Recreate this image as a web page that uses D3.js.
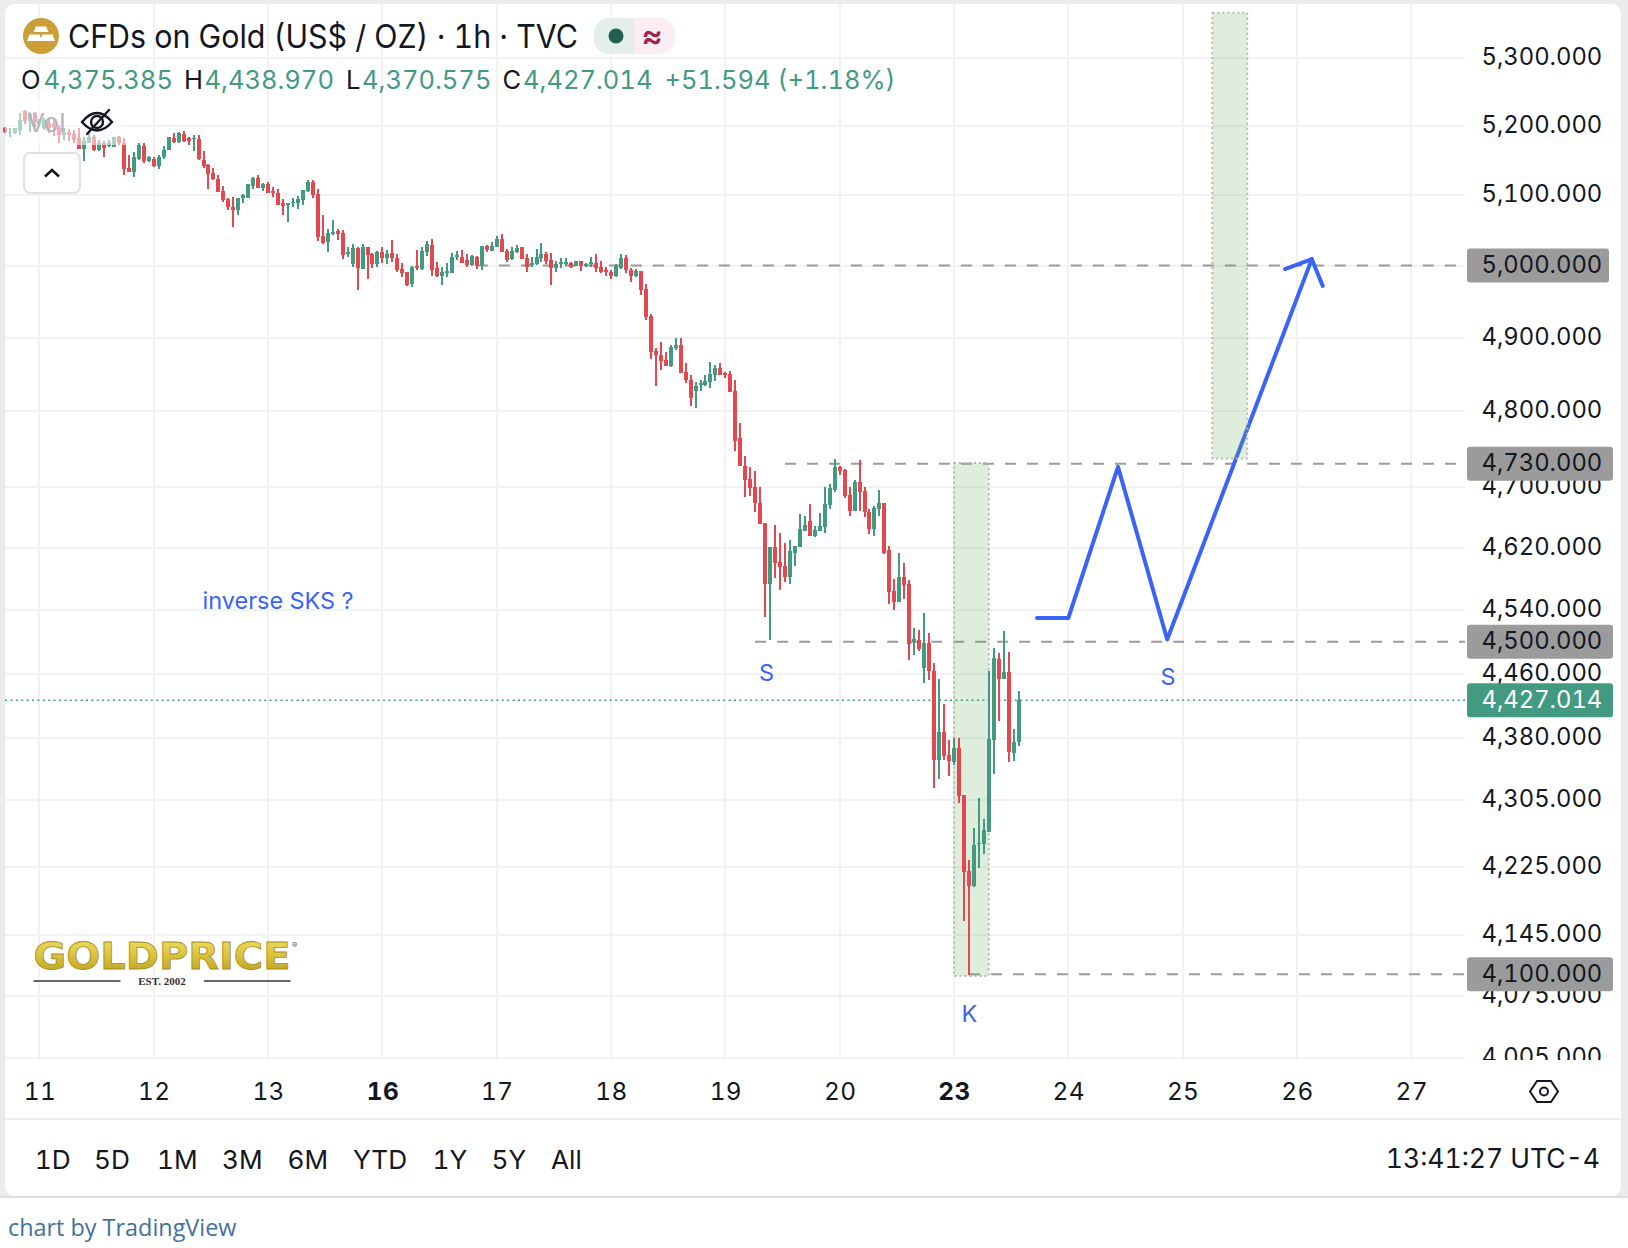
<!DOCTYPE html>
<html><head><meta charset="utf-8">
<style>
html,body{margin:0;padding:0;background:#fff}
svg{display:block}
text{font-family:Inter,"Noto Sans",sans-serif;font-variant-numeric:tabular-nums}
.yaxis text{font-size:23.8px;fill:#131722}
.xaxis text{font-size:24.4px;fill:#131722;letter-spacing:.4px}
</style>
<script src="https://cdn.jsdelivr.net/npm/d3@7/dist/d3.min.js"></script>
</head><body><svg id="c" width="1628" height="1248"></svg>
<script>
const opens=[5197,5189,5189,5193,5221,5206,5218,5202,5196,5204,5202,5196,5186,5190,5187,5182,5166,5174,5184,5164,5175,5170,5169,5183,5175,5138,5133,5152,5170,5149,5152,5141,5154,5164,5182,5176,5187,5182,5180,5180,5150,5143,5132,5123,5105,5094,5083,5078,5095,5096,5112,5124,5110,5116,5105,5103,5089,5085,5088,5089,5093,5105,5118,5101,5041,5033,5044,5048,5046,5016,5002,5025,4995,5026,5016,5002,5019,5010,5017,5011,4995,4991,4974,4999,4995,5019,5029,4997,4985,4990,4990,5012,5012,5008,5001,5012,5001,5027,5020,5026,5037,5020,5009,5019,5026,5011,5001,5002,5011,5016,5008,4997,5002,5003,5004,4999,5006,4999,5002,5004,4998,4994,4991,4985,4997,5010,4994,4985,4992,4967,4930,4882,4877,4869,4861,4886,4890,4853,4842,4827,4835,4835,4839,4849,4858,4852,4850,4827,4764,4727,4710,4699,4678,4652,4573,4621,4602,4596,4583,4614,4621,4642,4655,4635,4642,4647,4676,4695,4726,4722,4689,4668,4706,4694,4666,4644,4670,4679,4617,4564,4551,4583,4573,4500,4502,4467,4498,4464,4353,4388,4360,4351,4368,4311,4220,4203,4252,4252,4267,4378,4478,4453,4462,4362,4375.385];
const highs=[5198,5196,5197,5218,5222,5220,5220,5209,5211,5211,5208,5201,5196,5195,5193,5197,5184,5189,5186,5179,5177,5179,5183,5185,5182,5157,5162,5174,5174,5156,5154,5157,5170,5184,5189,5190,5192,5183,5186,5186,5163,5144,5138,5129,5112,5096,5097,5095,5101,5115,5125,5128,5117,5118,5111,5108,5094,5089,5096,5098,5107,5121,5121,5108,5071,5052,5064,5051,5050,5026,5030,5026,5030,5026,5018,5020,5026,5022,5036,5016,5003,4991,4999,5022,5026,5034,5037,5005,4998,5004,5017,5020,5022,5016,5015,5013,5027,5029,5033,5041,5044,5023,5026,5029,5026,5016,5012,5023,5032,5019,5018,5006,5010,5010,5005,5006,5006,5004,5012,5016,5006,4998,4994,5002,5016,5015,4997,4995,4992,4974,4933,4886,4894,4880,4890,4900,4900,4865,4849,4840,4842,4849,4867,4863,4865,4853,4854,4842,4784,4740,4726,4720,4699,4652,4621,4650,4639,4626,4630,4623,4664,4661,4677,4648,4665,4699,4703,4736,4727,4723,4700,4708,4735,4700,4670,4674,4695,4679,4622,4580,4613,4600,4578,4517,4515,4536,4511,4473,4454,4422,4378,4381,4380,4311,4233,4271,4308,4282,4463,4492,4486,4514,4487,4391,4438.97];
const lows=[5189,5183,5188,5186,5202,5190,5198,5198,5193,5189,5185,5175,5179,5177,5175,5166,5149,5174,5163,5163,5155,5169,5169,5172,5128,5133,5125,5150,5145,5147,5140,5137,5152,5164,5174,5174,5176,5172,5163,5150,5139,5109,5121,5104,5090,5078,5055,5071,5089,5095,5109,5110,5106,5103,5097,5085,5071,5062,5083,5080,5085,5104,5096,5034,5030,5019,5043,5036,5009,5012,4998,4966,4995,4981,4997,4998,5003,5002,5005,4991,4984,4971,4970,4994,4994,5013,4986,4984,4973,4984,4989,5008,5004,4998,5000,4995,4994,5019,5020,5026,5019,5005,5008,5018,5009,4991,4998,5001,5005,5002,4973,4991,4997,5000,4997,4999,4992,4998,4998,4991,4990,4985,4981,4984,4995,4990,4977,4984,4959,4924,4871,4834,4856,4861,4860,4883,4852,4838,4807,4804,4827,4834,4831,4841,4849,4845,4826,4747,4727,4686,4687,4666,4651,4531,4502,4581,4566,4576,4573,4596,4621,4642,4635,4634,4642,4639,4670,4693,4715,4685,4661,4668,4668,4660,4638,4636,4661,4612,4548,4540,4551,4554,4477,4484,4489,4448,4452,4319,4330,4354,4334,4348,4302,4162,4099,4202,4224,4241,4267,4336,4401,4453,4351,4352,4370.575];
const closes=[5191,5191,5196,5208,5206,5217,5205,5206,5208,5196,5198,5186,5190,5186,5179,5166,5177,5184,5164,5174,5167,5174,5183,5175,5137,5133,5154,5172,5148,5154,5141,5155,5164,5183,5176,5189,5178,5178,5182,5151,5142,5130,5122,5104,5092,5083,5078,5095,5100,5115,5124,5110,5115,5103,5103,5085,5084,5088,5090,5094,5107,5119,5100,5040,5032,5046,5047,5045,5015,5019,5024,4997,5026,5015,5002,5019,5011,5016,5011,4994,4990,4973,4998,4997,5020,5031,4994,4985,4991,4992,5012,5015,5004,5001,5013,4999,5027,5022,5027,5037,5019,5008,5020,5025,5009,4998,5004,5012,5016,5006,4997,5002,5005,5005,4998,5006,4999,5002,5005,4997,4991,4991,4985,4999,5010,4994,4985,4992,4966,4929,4880,4876,4868,4861,4887,4890,4852,4842,4818,4834,4838,4841,4850,4858,4849,4849,4826,4761,4727,4708,4698,4678,4651,4573,4621,4600,4595,4583,4616,4622,4644,4650,4635,4643,4648,4677,4698,4726,4720,4687,4668,4706,4693,4666,4644,4672,4678,4614,4563,4551,4583,4572,4497,4503,4491,4498,4463,4353,4388,4359,4352,4368,4310,4219,4203,4251,4254,4269,4379,4480,4453,4462,4363,4375,4427.014];

const priceTicks=[5300,5200,5100,5000,4900,4800,4700,4620,4540,4460,4380,4305,4225,4145,4075,4005];
const dayIndex=[7,30,53,76,99,122,145,168,191,214,237,260,283];
const dayLabels=["11","12","13","16","17","18","19","20","23","24","25","26","27"];
const boldDays=["16","23"];
const levels=[{p:5000,from:95},{p:4730,from:157},{p:4500,from:151},{p:4100,from:194}];
const levelBoxes=[5000,4730,4500,4100];
const lastPrice=4427.014;
const zones=[{a:191,b:198,hi:4731,lo:4098},{a:243,b:250,hi:5367,lo:4737}];
const pathIdx=[207.7,214,224,233.9,263];
const pathPx=[4530,4530,4726,4503,5009];
const arrowIdx=[257.6,263,265.2];
const arrowPx=[4995,5009,4971.5];
const ranges=["1D","5D","1M","3M","6M","YTD","1Y","5Y","All"];
const rangeX=[34.8,94,157,222,287.6,353,432.5,491.5,551];

const svg=d3.select("#c");
const x=d3.scaleLinear().domain([0,204]).range([4.7,1018.6]);
const y=d3.scaleLog().domain([4005,5300]).range([1058,57.5]);
const fmt=d3.format(",.3f");
const UP="#429a81",DN="#e3474f",BLUE="#3a64f5",INK="#131722";

// frame
svg.append("rect").attr("width",1628).attr("height",1198).attr("fill","#ebebeb");
svg.append("rect").attr("x",5).attr("y",4).attr("width",1616).attr("height",1192).attr("rx",9).attr("fill","#fff");
svg.append("rect").attr("x",0).attr("y",1196).attr("width",1628).attr("height",2).attr("fill","#dedede");
svg.append("rect").attr("x",0).attr("y",1198).attr("width",1628).attr("height",50).attr("fill","#fff");
svg.append("rect").attr("x",5).attr("y",1118).attr("width",1616).attr("height",2).attr("fill","#ebebeb");

// grid
const grid=svg.append("g").attr("stroke","#f2f2f2").attr("stroke-width",2).attr("shape-rendering","crispEdges");
grid.selectAll(".h").data(priceTicks).join("line").attr("class","h").attr("x1",5).attr("x2",1465).attr("y1",d=>y(d)).attr("y2",d=>y(d));
grid.selectAll(".v").data(dayIndex).join("line").attr("class","v").attr("x1",d=>x(d)).attr("x2",d=>x(d)).attr("y1",4).attr("y2",1060);

// levels
svg.append("g").selectAll("line").data(levels).join("line")
 .attr("x1",d=>x(d.from)).attr("x2",1465).attr("y1",d=>y(d.p)).attr("y2",d=>y(d.p))
 .attr("stroke","#9a9a9a").attr("stroke-width",2).attr("stroke-dasharray","11 11");

// forecast path
const ln=d3.line().x(d=>x(d[0])).y(d=>y(d[1]));
const drawPath=(a,b)=>svg.append("path").attr("d",ln(a.map((v,i)=>[v,b[i]]))).attr("fill","none")
 .attr("stroke",BLUE).attr("stroke-width",4).attr("stroke-linecap","round").attr("stroke-linejoin","round");
drawPath(pathIdx,pathPx);drawPath(arrowIdx,arrowPx);

// zones
svg.append("g").selectAll("rect").data(zones).join("rect")
 .attr("x",d=>x(d.a)).attr("width",d=>x(d.b)-x(d.a)).attr("y",d=>y(d.hi)).attr("height",d=>y(d.lo)-y(d.hi))
 .attr("fill","rgba(106,176,92,0.21)").attr("stroke","#b5b8b3").attr("stroke-width",2).attr("stroke-dasharray","2 3");

// last price line
svg.append("line").attr("x1",5).attr("x2",1465).attr("y1",y(lastPrice)).attr("y2",y(lastPrice))
 .attr("stroke",UP).attr("stroke-width",1.6).attr("stroke-dasharray","2 3.4");

// candles
const idx=d3.range(opens.length);
const col=i=>closes[i]>=opens[i]?UP:DN;
const cg=svg.append("g").attr("shape-rendering","crispEdges");
cg.selectAll(".w").data(idx).join("rect").attr("class","w").attr("x",i=>Math.round(x(i))-1).attr("width",2)
 .attr("y",i=>y(highs[i])).attr("height",i=>y(lows[i])-y(highs[i])).attr("fill",col);
cg.selectAll(".b").data(idx).join("rect").attr("class","b").attr("x",i=>Math.round(x(i))-2).attr("width",4)
 .attr("y",i=>y(Math.max(opens[i],closes[i]))).attr("height",i=>Math.max(1.5,Math.abs(y(opens[i])-y(closes[i])))).attr("fill",col);

// legend veil over candles
svg.append("rect").attr("x",5).attr("y",100).attr("width",121).attr("height",45).attr("fill","#fff").attr("opacity",0.55);
svg.append("text").attr("x",27).attr("y",132).attr("font-size",26).attr("fill","#b2b5be").text("Vol");

// eye icon
const eye=svg.append("g").attr("fill","none").attr("stroke","#131722").attr("stroke-width",2.4).attr("stroke-linecap","round");
eye.append("path").attr("d","M82 122 Q97 104 112 122 Q97 139 82 122 Z");
eye.append("circle").attr("cx",97).attr("cy",122).attr("r",6);
eye.append("line").attr("x1",87).attr("y1",134).attr("x2",109).attr("y2",110);

// collapse button
svg.append("rect").attr("x",24).attr("y",153).attr("width",56).attr("height",40).attr("rx",6).attr("fill","#fff").attr("stroke","#e0e0e0").attr("stroke-width",2);
svg.append("path").attr("d","M45 176.5 L52 170 L59 176.5").attr("fill","none").attr("stroke","#131722").attr("stroke-width",2.6);

// y axis
svg.append("clipPath").attr("id","yc").append("rect").attr("x",1466).attr("y",0).attr("width",160).attr("height",1060);
const ya=svg.append("g").attr("clip-path","url(#yc)").append("g").attr("class","yaxis").attr("transform","translate(1481.5,-1)")
 .call(d3.axisRight(y).tickValues(priceTicks).tickSize(0).tickPadding(0).tickFormat(fmt));
ya.select(".domain").remove();

// boxes
const boxG=svg.append("g");
levelBoxes.forEach(p=>{
 const w=p===5000?142:146;
 boxG.append("rect").attr("x",1467).attr("y",y(p)-17).attr("width",w).attr("height",34).attr("rx",3).attr("fill","#9b9b9b");
 boxG.append("text").attr("x",1481.5).attr("y",y(p)-1).attr("dy","0.35em").attr("font-size",23.8).attr("fill",INK).text(fmt(p));
});
boxG.append("rect").attr("x",1467).attr("y",y(lastPrice)-17).attr("width",146).attr("height",34).attr("rx",3).attr("fill",UP);
boxG.append("text").attr("x",1481.5).attr("y",y(lastPrice)-1).attr("dy","0.35em").attr("font-size",23.8).attr("fill","#fff").text(fmt(lastPrice));

// x axis
const xa=svg.append("g").attr("class","xaxis").attr("transform","translate(0,1083)")
 .call(d3.axisBottom(x).tickValues(dayIndex).tickSize(0).tickPadding(0).tickFormat((d,i)=>dayLabels[i]));
xa.select(".domain").remove();
xa.selectAll("text").attr("dy",0).attr("y",17).attr("font-weight",(d,i)=>boldDays.includes(dayLabels[i])?700:400);

// settings hex
const hex=svg.append("g").attr("transform","translate(1544,1091.5)").attr("fill","none").attr("stroke","#131722").attr("stroke-width",2);
hex.append("path").attr("d","M-14 0 L-7 -10.5 L7 -10.5 L14 0 L7 10.5 L-7 10.5 Z");
hex.append("circle").attr("r",4);

// title row
svg.append("circle").attr("cx",41).attr("cy",36).attr("r",18).attr("fill","#cc9f36");
const bars=svg.append("g").attr("fill","#fff");
bars.append("path").attr("d","M36 26.5 H46 L48.5 32 H33.5 Z");
bars.append("path").attr("d","M29.5 34.5 H39.5 L42 41 H27 Z");
bars.append("path").attr("d","M42.5 34.5 H52.5 L55 41 H40 Z");
svg.append("text").attr("x",68).attr("y",48).attr("font-size",32).attr("fill",INK).attr("textLength",510).attr("lengthAdjust","spacingAndGlyphs").text("CFDs on Gold (US$ / OZ) · 1h · TVC");
svg.append("rect").attr("x",594).attr("y",18).attr("width",81).attr("height",36).attr("rx",15).attr("fill","#fbeef2");
svg.append("path").attr("d","M634 18 H609 A15 15 0 0 0 594 33 V39 A15 15 0 0 0 609 54 H634 Z").attr("fill","#e4efec");
svg.append("circle").attr("cx",616).attr("cy",36).attr("r",7.5).attr("fill","#22614f");
svg.append("text").attr("x",652).attr("y",47).attr("text-anchor","middle").attr("font-size",32).attr("font-weight",600).attr("fill","#a1244f").text("≈");

// ohlc row
const ohlc=[["O",21,INK],["4,375.385",43.5,UP],["H",184,INK],["4,438.970",204.5,UP],["L",346,INK],["4,370.575",362,UP],["C",502.5,INK],["4,427.014",523,UP],["+51.594",664.5,UP],["(+1.18%)",777.5,UP]];
svg.append("g").selectAll("text").data(ohlc).join("text").attr("x",d=>d[1]).attr("y",89).attr("font-size",25.5).attr("fill",d=>d[2]).text(d=>d[0]);

// annotations
const notes=[["inverse SKS ?",202.5,609,"start"],["S",766.5,681,"middle"],["S",1168,685,"middle"],["K",969.5,1022,"middle"]];
svg.append("g").selectAll("text").data(notes).join("text").attr("x",d=>d[1]).attr("y",d=>d[2]).attr("text-anchor",d=>d[3]).attr("font-size",23.5).attr("fill",BLUE).text(d=>d[0]);

// logo
const defs=svg.append("defs");
const g=defs.append("linearGradient").attr("id","gold").attr("x1",0).attr("y1",0).attr("x2",0).attr("y2",1);
g.append("stop").attr("offset","0%").attr("stop-color","#f1e36a");
g.append("stop").attr("offset","50%").attr("stop-color","#d9c03a");
g.append("stop").attr("offset","100%").attr("stop-color","#b59a22");
svg.append("text").attr("x",33.5).attr("y",969).attr("font-size",37).attr("font-weight",700).attr("fill","url(#gold)").attr("stroke","#a89020").attr("stroke-width",0.8).attr("textLength",257).attr("lengthAdjust","spacingAndGlyphs").attr("style","font-family:'DejaVu Sans'").text("GOLDPRICE");
svg.append("text").attr("x",292).attr("y",948).attr("font-size",8).attr("fill","#555").text("®");
svg.append("line").attr("x1",33.5).attr("x2",120.5).attr("y1",981).attr("y2",981).attr("stroke","#333").attr("stroke-width",1.6);
svg.append("line").attr("x1",204).attr("x2",290.5).attr("y1",981).attr("y2",981).attr("stroke","#333").attr("stroke-width",1.6);
svg.append("text").attr("x",162).attr("y",984.5).attr("text-anchor","middle").attr("font-size",11).attr("font-weight",700).attr("fill","#333").attr("style","font-family:'Liberation Serif'").text("EST. 2002");

// range bar
svg.append("g").selectAll("text").data(ranges).join("text").attr("x",(d,i)=>rangeX[i]).attr("y",1168.5).attr("font-size",26.2).attr("fill",INK).text(d=>d);
svg.append("text").attr("x",1600).attr("y",1168).attr("text-anchor","end").attr("font-size",26.5).attr("fill",INK).text("13:41:27 UTC-4");

// footer
svg.append("text").attr("x",8).attr("y",1236).attr("font-size",23.4).attr("fill","#3f729c").attr("style","font-family:'Open Sans'").text("chart by TradingView");
</script></body></html>
